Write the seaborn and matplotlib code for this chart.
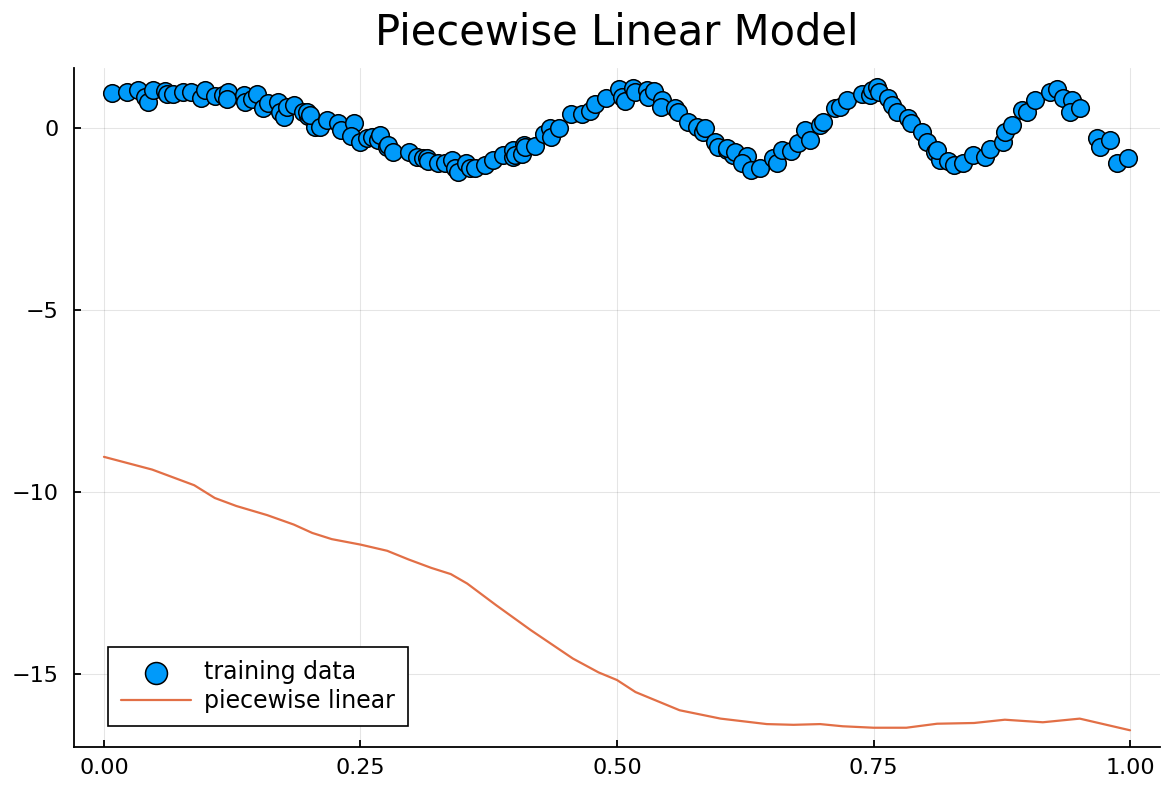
"""Piecewise linear model vs training data (Plots.jl GR look)."""

import matplotlib
matplotlib.use("Agg")
import matplotlib.pyplot as plt
import numpy as np
import pandas as pd
import seaborn as sns

sns.set_theme(style="ticks")
plt.rcParams.update({"font.family": ["DejaVu Sans"], "axes.unicode_minus": True,
                     "text.color": "black", "xtick.color": "black", "ytick.color": "black",
                     "xtick.labelcolor": "black", "ytick.labelcolor": "black"})
BLUE, ORANGE = "#009AFA", "#E26F46"

# training data
train_x = [
    0.0075, 0.022, 0.033, 0.040, 0.0426, 0.048, 0.059, 0.061, 0.067, 0.077, 0.085, 0.095, 0.098,
    0.108, 0.116, 0.121, 0.120, 0.136, 0.137, 0.144, 0.149, 0.155, 0.160, 0.170, 0.172, 0.175,
    0.178, 0.185, 0.194, 0.199, 0.206,
    0.1975, 0.201, 0.2105, 0.217, 0.228, 0.231, 0.244, 0.241, 0.2495, 0.256, 0.261, 0.267, 0.269,
    0.2755, 0.277, 0.282, 0.297, 0.305, 0.311, 0.3145, 0.316, 0.326, 0.332, 0.339, 0.342, 0.345,
    0.353, 0.357, 0.362, 0.371, 0.3795, 0.389, 0.399, 0.399, 0.409,
    0.4006, 0.407, 0.410, 0.420, 0.429, 0.4347, 0.436, 0.443, 0.455, 0.4656, 0.4737, 0.4786,
    0.489, 0.502, 0.5046, 0.5078, 0.516, 0.518, 0.529, 0.5305, 0.5364, 0.5435, 0.5429, 0.5565,
    0.5598, 0.5695, 0.5776, 0.584, 0.5858, 0.5955, 0.5988, 0.607, 0.6134,
    0.607, 0.615, 0.6264, 0.6215, 0.631, 0.6394, 0.652, 0.6556, 0.6605, 0.670, 0.6767, 0.6832,
    0.688, 0.6979, 0.701, 0.7125, 0.7174, 0.7238, 0.7385, 0.7466, 0.7482, 0.753, 0.7553, 0.7644,
    0.7677, 0.7726, 0.784, 0.787, 0.797, 0.8018, 0.81, 0.815,
    0.8116, 0.823, 0.828, 0.8375, 0.8473, 0.8587, 0.8636, 0.8766, 0.878, 0.8847, 0.8944, 0.8993,
    0.9074, 0.922, 0.9285, 0.935, 0.943, 0.9415, 0.951, 0.9675, 0.9708, 0.9805, 0.987, 0.998,
]
train_y = [
    0.95, 1.00, 1.04, 0.86, 0.72, 1.04, 1.02, 0.93, 0.93, 0.98, 0.98, 0.83, 1.04,
    0.89, 0.91, 1.00, 0.80, 0.91, 0.72, 0.80, 0.93, 0.54, 0.68, 0.72, 0.45, 0.31,
    0.59, 0.63, 0.45, 0.34, 0.04,
    0.45, 0.36, 0.04, 0.22, 0.13, -0.05, 0.13, -0.22, -0.38, -0.28, -0.24, -0.33, -0.19,
    -0.51, -0.47, -0.65, -0.67, -0.79, -0.83, -0.83, -0.91, -0.97, -0.97, -0.88, -1.11, -1.20,
    -0.97, -1.11, -1.09, -1.02, -0.88, -0.74, -0.79, -0.60, -0.47,
    -0.74, -0.70, -0.51, -0.49, -0.17, -0.01, -0.24, -0.01, 0.38, 0.40, 0.47, 0.65,
    0.82, 1.07, 0.86, 0.74, 1.09, 1.00, 1.04, 0.86, 1.02, 0.77, 0.59, 0.54,
    0.45, 0.17, 0.04, -0.10, -0.01, -0.38, -0.51, -0.60, -0.74,
    -0.56, -0.65, -0.76, -0.97, -1.15, -1.09, -0.83, -0.97, -0.60, -0.63, -0.42, -0.05,
    -0.33, 0.08, 0.17, 0.54, 0.59, 0.77, 0.93, 0.91, 1.04, 1.14, 1.00, 0.82,
    0.63, 0.45, 0.27, 0.13, -0.10, -0.38, -0.65, -0.88,
    -0.60, -0.91, -1.02, -0.97, -0.74, -0.79, -0.58, -0.38, -0.10, 0.08, 0.49, 0.45,
    0.77, 0.98, 1.07, 0.82, 0.77, 0.45, 0.54, -0.28, -0.51, -0.33, -0.97, -0.82,
]

# piecewise linear fit
fit_x = [0.0, 0.047, 0.088, 0.108, 0.129, 0.159, 0.185, 0.203, 0.222, 0.25, 0.276, 0.297,
         0.319, 0.338, 0.354, 0.382, 0.416, 0.457, 0.482, 0.5, 0.518, 0.561, 0.601, 0.646,
         0.672, 0.698, 0.72, 0.75, 0.782, 0.812, 0.848, 0.878, 0.915, 0.951, 1.0]
fit_y = [-9.03, -9.38, -9.81, -10.16, -10.38, -10.63, -10.89, -11.12, -11.29, -11.44, -11.61,
         -11.85, -12.08, -12.25, -12.51, -13.10, -13.79, -14.57, -14.95, -15.16, -15.49, -15.99,
         -16.22, -16.37, -16.39, -16.37, -16.43, -16.47, -16.47, -16.36, -16.34, -16.25, -16.32,
         -16.22, -16.54]

XTICKS = [0.0, 0.25, 0.5, 0.75, 1.0]
YTICKS = [0, -5, -10, -15]

train = pd.DataFrame({"x": train_x, "y": train_y})
fit = pd.DataFrame({"x": fit_x, "y": fit_y})

fig = plt.figure(figsize=(11.71, 7.88), dpi=100)
ax = fig.add_axes([0.0632, 0.052, 0.9274, 0.8617])

sns.scatterplot(data=train, x="x", y="y", ax=ax, color=BLUE, s=160, edgecolor="black",
                linewidth=1.1, label="training data", zorder=3)
sns.lineplot(data=fit, x="x", y="y", ax=ax, color=ORANGE, lw=1.6, sort=False,
             estimator=None, label="piecewise linear", zorder=2)

ax.set_xlim(-0.0292, 1.0292); ax.set_ylim(-17.0, 1.65)
ax.set_xticks(XTICKS); ax.set_xticklabels([f"{t:.2f}" for t in XTICKS])
ax.set_yticks(YTICKS); ax.set_yticklabels([f"{t}".replace("-", "\u2212") for t in YTICKS])
ax.set_xlabel(""); ax.set_ylabel("")
ax.grid(True, color="black", alpha=0.1, lw=0.8)
ax.tick_params(direction="in", length=5, width=1.3, labelsize=16, color="black")
ax.tick_params(axis="x", pad=8); ax.tick_params(axis="y", pad=11)
for s in ("top", "right"):
    ax.spines[s].set_visible(False)
for s in ("left", "bottom"):
    ax.spines[s].set_linewidth(1.3); ax.spines[s].set_color("black")
ax.set_title("Piecewise Linear Model", fontsize=30, pad=17, color="black")

leg = ax.legend(loc="lower left", bbox_to_anchor=(0.031, 0.031), fontsize=17, frameon=True,
                fancybox=False, edgecolor="black", framealpha=1, borderpad=0.55,
                handlelength=3.0, handletextpad=0.55, labelspacing=0.2, borderaxespad=0,
                markerscale=1.25)
leg.get_frame().set_linewidth(1.2)

fig.savefig("out.png", dpi=100)
